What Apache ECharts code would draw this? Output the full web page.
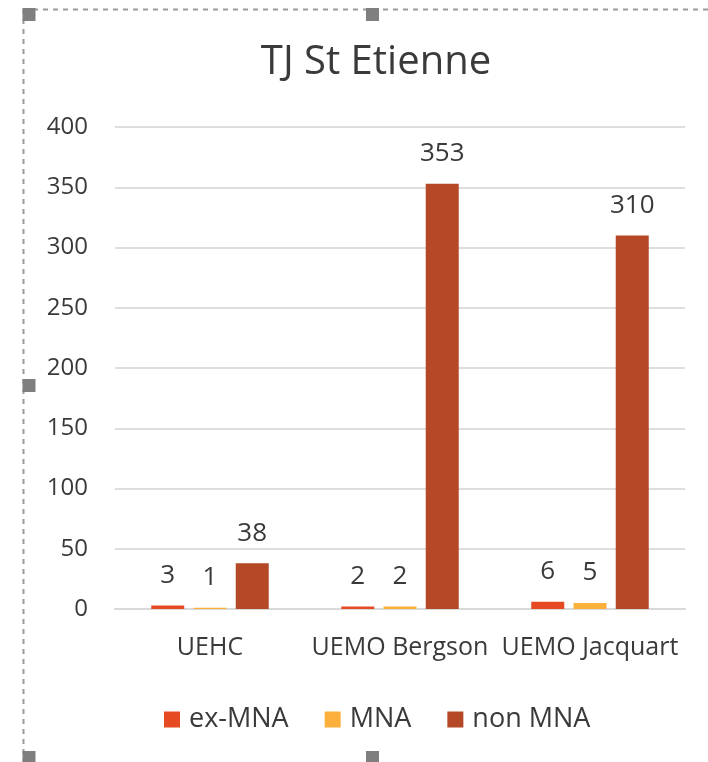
<!DOCTYPE html>
<html>
<head>
<meta charset="utf-8">
<title>TJ St Etienne</title>
<script src="https://cdn.jsdelivr.net/npm/echarts@6/dist/echarts.min.js"></script>
<style>
  html, body { margin: 0; padding: 0; background: #ffffff; }
  #main { width: 708px; height: 762px; }
</style>
</head>
<body>
<div id="main"></div>
<script>
// données du graphique
var categories = ['UEHC', 'UEMO Bergson', 'UEMO Jacquart'];
var seriesNames = ['ex-MNA', 'MNA', 'non MNA'];
var exMna = [3, 2, 6];
var mna = [1, 2, 5];
var nonMna = [38, 353, 310];
var yTicks = [0, 50, 100, 150, 200, 250, 300, 350, 400];

var colors = ['#E64A22', '#FBB03B', '#B54826'];
var fontFam = 'Open Sans';
var txtColor = '#3a3a3a';

function barSerie(name, data, color) {
  return {
    name: name,
    type: 'bar',
    data: data,
    barWidth: 33,
    barGap: '28%',
    itemStyle: { color: color },
    label: {
      show: true,
      position: 'top',
      distance: 17,
      color: txtColor,
      fontSize: 26,
      fontFamily: fontFam
    }
  };
}

var handle = function (x, y) {
  return { type: 'rect', shape: { x: x, y: y, width: 13, height: 13 }, style: { fill: '#7f7f7f' }, z: 100 };
};

var chartDom = document.getElementById('main');
var myChart = echarts.init(chartDom, null, { renderer: 'canvas' });

var option = {
  animation: false,
  backgroundColor: '#ffffff',
  title: {
    text: 'TJ St Etienne',
    left: 371,
    textAlign: 'center',
    top: 38,
    textStyle: { color: txtColor, fontSize: 40, fontWeight: 'normal', fontFamily: fontFam }
  },
  legend: {
    data: seriesNames,
    left: 159,
    top: 701,
    itemWidth: 16,
    itemHeight: 16,
    itemGap: 36,
    icon: 'rect',
    textStyle: { color: txtColor, fontSize: 27, fontFamily: fontFam, padding: [0, 0, 0, 4] }
  },
  grid: { left: 115, right: 23, top: 127, bottom: 153, containLabel: false },
  xAxis: {
    type: 'category',
    data: categories,
    axisTick: { show: false },
    axisLine: { lineStyle: { color: '#d9d9d9', width: 2 } },
    axisLabel: { color: txtColor, fontSize: 25, fontFamily: fontFam, margin: 26, interval: 0 }
  },
  yAxis: {
    type: 'value',
    min: yTicks[0],
    max: yTicks[yTicks.length - 1],
    interval: yTicks[1] - yTicks[0],
    axisLine: { show: false },
    axisTick: { show: false },
    splitLine: { lineStyle: { color: '#dedede', width: 2 } },
    axisLabel: { color: txtColor, fontSize: 24, fontFamily: fontFam, margin: 27 }
  },
  series: [
    barSerie(seriesNames[0], exMna, colors[0]),
    barSerie(seriesNames[1], mna, colors[1]),
    barSerie(seriesNames[2], nonMna, colors[2])
  ],
  graphic: [
    // cadre de sélection (pointillés + poignées)
    { type: 'line', shape: { x1: 23.5, y1: 9, x2: 23.5, y2: 762 }, style: { stroke: '#9a9a9a', lineWidth: 2, lineDash: [5, 5] }, z: 99 },
    { type: 'line', shape: { x1: 23, y1: 9.5, x2: 708, y2: 9.5 }, style: { stroke: '#9a9a9a', lineWidth: 2, lineDash: [5, 5] }, z: 99 },
    handle(22.5, 8),
    handle(366, 8),
    handle(22.5, 379),
    handle(22.5, 751),
    handle(366, 751)
  ]
};

myChart.setOption(option);
</script>
</body>
</html>
